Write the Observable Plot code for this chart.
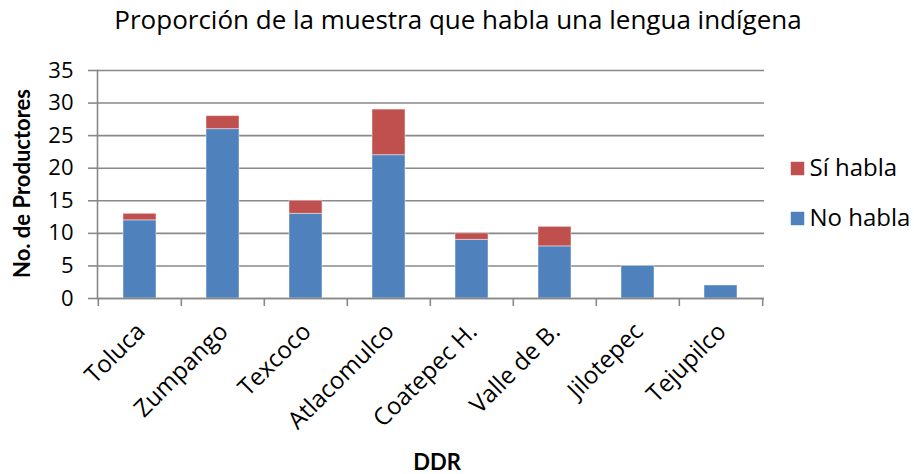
<!DOCTYPE html>
<html><head><meta charset="utf-8">
<script src="https://cdn.jsdelivr.net/npm/d3@7"></script>
<script src="https://cdn.jsdelivr.net/npm/@observablehq/plot@0.6"></script>
<style>body{margin:0;background:#fff}</style>
</head><body><div id="chart"></div>
<script>
const categories = ["Toluca","Zumpango","Texcoco","Atlacomulco","Coatepec H.","Valle de B.","Jilotepec","Tejupilco"];
const noHabla = [12,26,13,22,9,8,5,2];
const siHabla = [1,2,2,7,1,3,0,0];
const seriesNames = ["No habla","Sí habla"];
const seriesColors = ["#4F81BD","#C0504D"];
const yTicks = [0,5,10,15,20,25,30,35];
const titleText = "Proporción de la muestra que habla una lengua indígena";
const yTitle = "No. de Productores";
const xTitle = "DDR";

const data = categories.flatMap((c, i) => [
  {ddr: c, serie: seriesNames[0], n: noHabla[i]},
  {ddr: c, serie: seriesNames[1], n: siHabla[i]}
]);

const W = 914, H = 474, mL = 97, mR = 150, mT = 70, mB = 176;
const step = (W - mL - mR) / categories.length;
const grid = "#888888";
const font = "'Open Sans', sans-serif";

const chart = Plot.plot({
  width: W, height: H,
  marginLeft: mL, marginRight: mR, marginTop: mT, marginBottom: mB,
  style: {fontFamily: font, color: "#000", background: "#fff"},
  x: {domain: categories, paddingInner: 0.6, paddingOuter: 0.3},
  y: {domain: [0, 35]},
  color: {domain: seriesNames, range: seriesColors},
  marks: [
    Plot.gridY(yTicks, {stroke: grid, strokeOpacity: 1, strokeWidth: 1.6}),
    Plot.barY(data, Plot.stackY({x: "ddr", y: "n", fill: "serie", order: seriesNames, stroke: "#ffffff", strokeOpacity: 0.45, strokeWidth: 1})),
    Plot.ruleY([0], {stroke: grid, strokeWidth: 1.6}),
    Plot.frame({anchor: "left", stroke: grid, strokeWidth: 1.6}),
    Plot.ruleX(categories, {x: d => d, y1: 0, y2: 0, dx: -step / 2, insetBottom: -8, stroke: grid, strokeWidth: 1.6}),
    Plot.ruleX(categories.slice(-1), {x: d => d, y1: 0, y2: 0, dx: step / 2, insetBottom: -8, stroke: grid, strokeWidth: 1.6}),
    Plot.axisY({ticks: yTicks, tickSize: 9, tickPadding: 15, fontSize: 22, stroke: grid, strokeWidth: 1.6, label: null}),
    Plot.axisX({tickRotate: -45, tickSize: 0, tickPadding: 29, dx: 1, fontSize: 24, label: null}),
    Plot.text([titleText], {text: d => d, frameAnchor: "top", lineAnchor: "middle", dx: 27, dy: -50, fontSize: 26, fill: "#000"}),
    Plot.text([yTitle], {text: d => d, frameAnchor: "left", textAnchor: "middle", lineAnchor: "middle", rotate: -90, dx: -75, dy: -1, fontFamily: "Lato, sans-serif", fontSize: 22, fontWeight: "bold", fill: "#000"}),
    Plot.text([xTitle], {text: d => d, frameAnchor: "bottom", lineAnchor: "middle", dx: 6, dy: 164, fontFamily: "Lato, sans-serif", fontSize: 22, fontWeight: "bold", fill: "#000"}),
    Plot.dot([seriesNames[1]], {frameAnchor: "right", dx: 33, dy: -16, symbol: "square", r: 7.6, fill: seriesColors[1], stroke: null}),
    Plot.dot([seriesNames[0]], {frameAnchor: "right", dx: 33, dy: 34, symbol: "square", r: 7.6, fill: seriesColors[0], stroke: null}),
    Plot.text([seriesNames[1]], {text: d => d, frameAnchor: "right", dx: 45, dy: -16, textAnchor: "start", lineAnchor: "middle", fontSize: 24, fill: "#000"}),
    Plot.text([seriesNames[0]], {text: d => d, frameAnchor: "right", dx: 45, dy: 34, textAnchor: "start", lineAnchor: "middle", fontSize: 24, fill: "#000"})
  ]
});
document.getElementById("chart").appendChild(chart);
</script>
</body></html>
